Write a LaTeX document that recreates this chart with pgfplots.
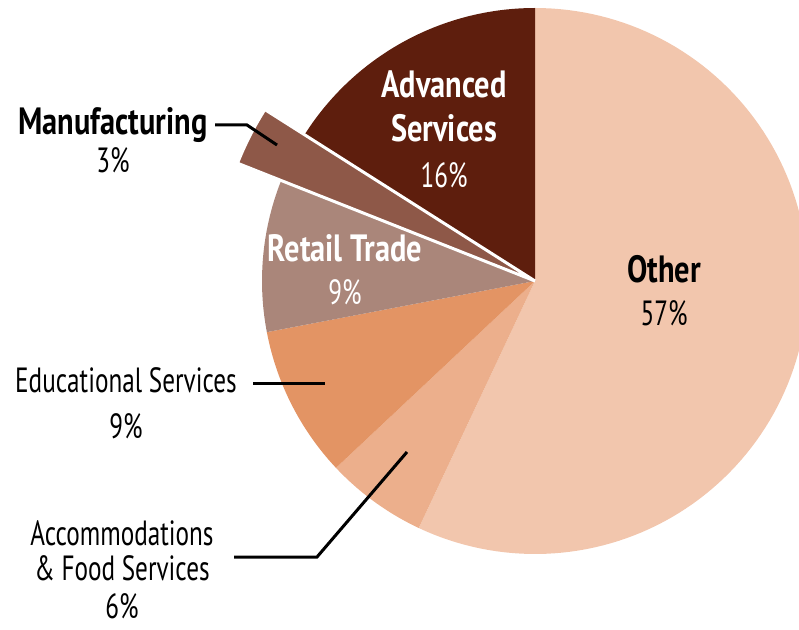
\documentclass[border=0pt]{standalone}
\usepackage{pgfplots}
\pgfplotsset{compat=1.18}
\usepackage{fontspec}
\setmainfont{PT Sans}[FakeStretch=0.8]
\newfontfamily\rgfont{PT Sans}[FakeStretch=0.72]
\definecolor{cOther}{RGB}{242,198,173}
\definecolor{cAcc}{RGB}{236,175,140}
\definecolor{cEdu}{RGB}{227,148,100}
\definecolor{cRet}{RGB}{170,134,122}
\definecolor{cMan}{RGB}{142,88,72}
\definecolor{cAdv}{RGB}{94,30,13}
% shares (percent), clockwise from 12 o'clock
\def\vOther{57}\def\vAcc{6}\def\vEdu{9}\def\vRet{9}\def\vMan{3}\def\vAdv{16}
\pgfmathsetmacro\aA{90-3.6*\vOther}
\pgfmathsetmacro\aB{\aA-3.6*\vAcc}
\pgfmathsetmacro\aC{\aB-3.6*\vEdu}
\pgfmathsetmacro\aD{\aC-3.6*\vRet}
\pgfmathsetmacro\aE{\aD-3.6*\vMan}
\pgfmathsetmacro\aF{\aE-3.6*\vAdv}
\def\cx{535}\def\cy{348}\def\R{273}\def\Rm{320}
\newcommand\bl{\fontsize{38}{40}\selectfont\bfseries}
\newcommand\rg{\rgfont\fontsize{35}{38}\selectfont}
\begin{document}
\begin{tikzpicture}[every node/.style={inner sep=1pt}]
\begin{axis}[
  scale only axis, width=799pt, height=629pt,
  xmin=0, xmax=799, ymin=0, ymax=629,
  hide axis, clip=true,
]
\addplot[fill=cOther, draw=none, variable=\t, domain=\aA:90, samples=120]
  ({\cx+\R*cos(\t)},{\cy+\R*sin(\t)}) -- (axis cs:\cx,\cy) -- cycle;
\addplot[fill=cAcc, draw=none, variable=\t, domain=\aB:\aA, samples=30]
  ({\cx+\R*cos(\t)},{\cy+\R*sin(\t)}) -- (axis cs:\cx,\cy) -- cycle;
\addplot[fill=cEdu, draw=none, variable=\t, domain=\aC:\aB, samples=30]
  ({\cx+\R*cos(\t)},{\cy+\R*sin(\t)}) -- (axis cs:\cx,\cy) -- cycle;
\addplot[fill=cRet, draw=none, variable=\t, domain=\aD:\aC, samples=30]
  ({\cx+\R*cos(\t)},{\cy+\R*sin(\t)}) -- (axis cs:\cx,\cy) -- cycle;
\addplot[fill=cAdv, draw=none, variable=\t, domain=\aF:\aE, samples=60]
  ({\cx+\R*cos(\t)},{\cy+\R*sin(\t)}) -- (axis cs:\cx,\cy) -- cycle;
\addplot[fill=cMan, draw=white, line width=3pt, line join=miter, variable=\t, domain=\aE:\aD, samples=20]
  ({\cx+\Rm*cos(\t)},{\cy+\Rm*sin(\t)}) -- (axis cs:\cx,\cy) -- cycle;
% leader lines
\draw[line width=3pt] (axis cs:215,504) -- (axis cs:247,504) -- (axis cs:277,484);
\draw[line width=3pt] (axis cs:253,245) -- (axis cs:325,245);
\draw[line width=3pt] (axis cs:234,72) -- (axis cs:317,72) -- (axis cs:407,177);
% labels
\node[anchor=base, font=\bl] at (axis cs:113,494) {Manufacturing};
\node[anchor=base, font=\rg] at (axis cs:113,456) {3\%};
\node[anchor=base, text=white, font=\bl] at (axis cs:444,531) {Advanced};
\node[anchor=base, text=white, font=\bl] at (axis cs:444,487) {Services};
\node[anchor=base, text=white, font=\rg] at (axis cs:444,441) {16\%};
\node[anchor=base, text=white, font=\bl] at (axis cs:345,367) {Retail Trade};
\node[anchor=base, text=white, font=\rg] at (axis cs:345,324) {9\%};
\node[anchor=base, font=\bl] at (axis cs:664,346) {Other};
\node[anchor=base, font=\rg] at (axis cs:664,303) {57\%};
\node[anchor=base, font=\rg] at (axis cs:126,236) {Educational Services};
\node[anchor=base, font=\rg] at (axis cs:126,191) {9\%};
\node[anchor=base, font=\rg] at (axis cs:122,84) {Accommodations};
\node[anchor=base, font=\rg] at (axis cs:122,49) {\& Food Services};
\node[anchor=base, font=\rg] at (axis cs:122,11) {6\%};
\end{axis}
\pgfresetboundingbox
\path (0,0) rectangle (799pt,629pt);
\end{tikzpicture}
\end{document}
